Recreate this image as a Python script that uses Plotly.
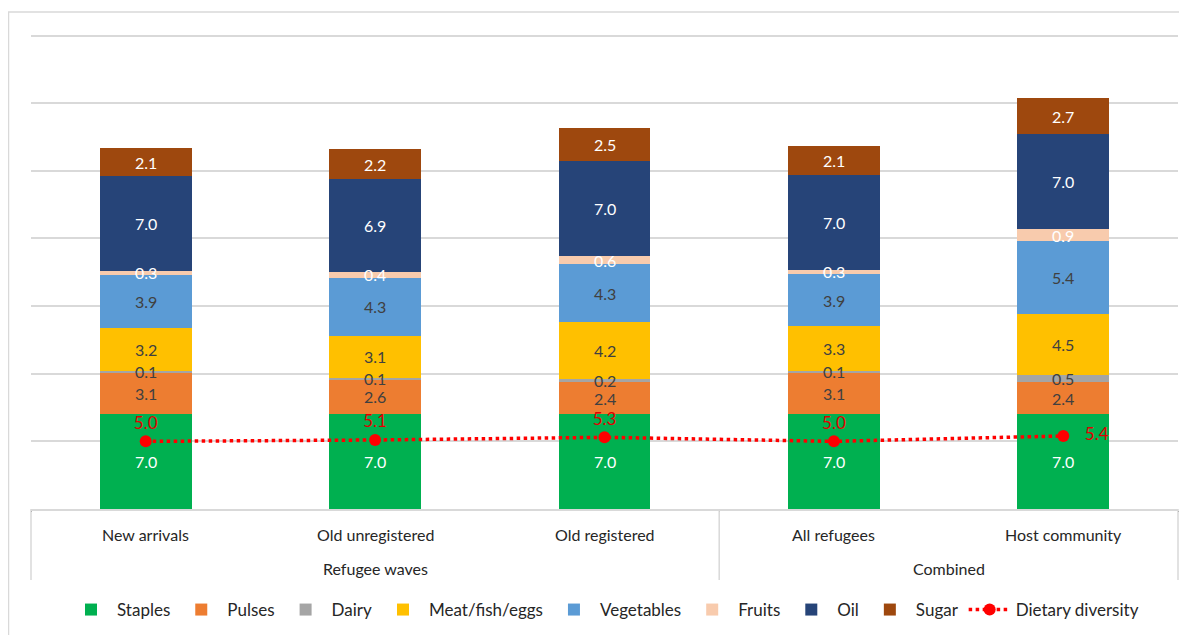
import plotly.graph_objects as go

groups = ["Refugee waves", "Refugee waves", "Refugee waves", "Combined", "Combined"]
categories = ["New arrivals", "Old unregistered", "Old registered", "All refugees", "Host community"]

staples = [7.0, 7.0, 7.0, 7.0, 7.0]
pulses = [3.1, 2.6, 2.4, 3.1, 2.4]
dairy = [0.1, 0.1, 0.2, 0.1, 0.5]
meat = [3.2, 3.1, 4.2, 3.3, 4.5]
vegetables = [3.9, 4.3, 4.3, 3.9, 5.4]
fruits = [0.3, 0.4, 0.6, 0.3, 0.9]
oil = [7.0, 6.9, 7.0, 7.0, 7.0]
sugar = [2.1, 2.2, 2.5, 2.1, 2.7]
dietary_diversity = [5.0, 5.1, 5.3, 5.0, 5.4]
y_ticks = [0, 5, 10, 15, 20, 25, 30, 35]

series = [
    ("Staples", staples, "#00B050", "white"),
    ("Pulses", pulses, "#ED7D31", "#404040"),
    ("Dairy", dairy, "#A5A5A5", "#404040"),
    ("Meat/fish/eggs", meat, "#FFC000", "#404040"),
    ("Vegetables", vegetables, "#5B9BD5", "#404040"),
    ("Fruits", fruits, "#F8CBAD", "white"),
    ("Oil", oil, "#264478", "white"),
    ("Sugar", sugar, "#9E480E", "white"),
]

FONT = "Lato, 'Open Sans', sans-serif"
GRID = "#D9D9D9"
x = [groups, categories]
n = len(categories)

# layout geometry (page has an 8px body margin)
W, H = 1179, 627
ML, MR, MT, MB = 23, 9, 14, 126
plot_h = H - MT - MB

fig = go.Figure()
annotations = []
base = [0.0] * n
for name, vals, color, tcolor in series:
    fig.add_trace(go.Bar(
        name=name, x=x, y=vals, marker=dict(color=color, line=dict(width=0)),
        hoverinfo="y+name",
    ))
    for i, v in enumerate(vals):
        annotations.append(dict(
            x=i, y=base[i] + v / 2, xref="x", yref="y",
            text=f"{v:.1f}", showarrow=False,
            font=dict(family=FONT, size=16, color=tcolor),
        ))
        base[i] += v

fig.add_trace(go.Scatter(
    name="Dietary diversity", x=x, y=dietary_diversity,
    mode="lines+markers+text",
    line=dict(color="#FF0000", width=3.5, dash="dot"),
    marker=dict(color="#FF0000", size=12),
    texttemplate=["%{y:.1f}"] * (n - 1) + ["   %{y:.1f}"],
    textposition=["top center"] * (n - 1) + ["middle right"],
    textfont=dict(family=FONT, size=17, color="#E00000"),
))

# category labels (inner row) and group labels (outer row)
inner_y = -25 / plot_h
outer_y = -59 / plot_h
for i, c in enumerate(categories):
    annotations.append(dict(
        x=i, y=inner_y, xref="x", yref="paper", text=c, showarrow=False,
        yanchor="middle", font=dict(family=FONT, size=16, color="#262626"),
    ))
group_names = list(dict.fromkeys(groups))
shapes = []
bounds = []
for g in group_names:
    idx = [i for i, gg in enumerate(groups) if gg == g]
    annotations.append(dict(
        x=sum(idx) / len(idx), y=outer_y, xref="x", yref="paper", text=g,
        showarrow=False, yanchor="middle",
        font=dict(family=FONT, size=16, color="#262626"),
    ))
    bounds.append((min(idx) - 0.5, max(idx) + 0.5))
div_x = sorted(set([b for pair in bounds for b in pair]))
for b in div_x:
    px = (b + 0.5) / n
    shapes.append(dict(
        type="line", xref="paper", yref="paper", x0=px, x1=px,
        y0=0, y1=-71 / plot_h, line=dict(color=GRID, width=1.5),
    ))

# outer chart border
shapes.append(dict(
    type="rect", xref="paper", yref="paper",
    x0=-(ML - 0.5) / (W - ML - MR), x1=1.05, y0=-0.5, y1=(plot_h + MT - 4) / plot_h,
    line=dict(color=GRID, width=1.5), fillcolor="rgba(0,0,0,0)", layer="below",
))

fig.update_layout(
    barmode="stack",
    bargap=0.6,
    width=W, height=H,
    margin=dict(l=ML, r=MR, t=MT, b=MB),
    paper_bgcolor="white", plot_bgcolor="white",
    font=dict(family=FONT, size=15, color="#404040"),
    showlegend=True,
    legend=dict(
        orientation="h", x=0.5, xanchor="center",
        yref="container", y=(H - 602) / H, yanchor="middle",
        font=dict(family=FONT, size=17, color="#262626"),
        itemwidth=42, traceorder="normal",
    ),
    xaxis=dict(
        type="multicategory", showline=True, linecolor=GRID, linewidth=1.5,
        showgrid=False, showticklabels=False, ticks="",
    ),
    yaxis=dict(
        range=[0, 36], tickvals=y_ticks,
        showgrid=True, gridcolor=GRID, gridwidth=1.5,
        showticklabels=False, zeroline=False, showline=False,
    ),
    shapes=shapes,
    annotations=annotations,
)

fig.write_html("out.html")
